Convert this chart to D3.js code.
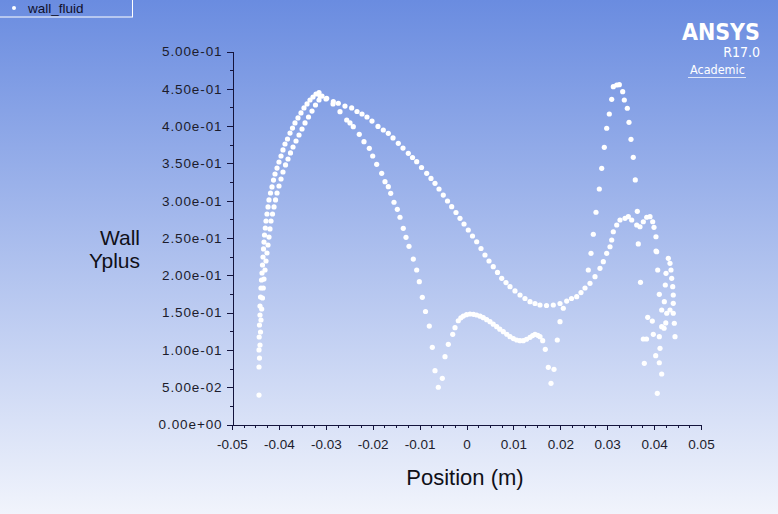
<!DOCTYPE html>
<html>
<head>
    <meta charset="UTF-8">
    <title>Wall Yplus</title>
    <script src="https://cdn.jsdelivr.net/npm/d3@7/dist/d3.min.js"></script>
    <style>
        body{
            padding: 0;
            margin: 0;
            overflow: hidden;
        }
        .axis path,
        .axis line{
            fill: none;
            stroke: #14143c;
            shape-rendering: crispEdges;
        }
        .axis text{
            font-family: "Liberation Sans", Arial, sans-serif;
            font-size: 13.5px;
            fill: #1c1c2c;
        }
        .yaxis text{
            letter-spacing: 0.9px;
        }
    </style>
</head>
<body>
<div class="first"></div>

<script>

    // tick labels as Fluent prints them
    var xTicks = [-0.05,-0.04,-0.03,-0.02,-0.01,0,0.01,0.02,0.03,0.04,0.05];
    var xTickLabels = ["-0.05","-0.04","-0.03","-0.02","-0.01","0","0.01","0.02","0.03","0.04","0.05"];
    var yTicks = [0,0.05,0.1,0.15,0.2,0.25,0.3,0.35,0.4,0.45,0.5];
    var yTickLabels = ["0.00e+00","5.00e-02","1.00e-01","1.50e-01","2.00e-01","2.50e-01",
        "3.00e-01","3.50e-01","4.00e-01","4.50e-01","5.00e-01"];

    // wall_fluid: [position (m), wall yplus]
    var leftOuter = [
        [-0.04424,0.0395],[-0.04424,0.0771],[-0.04424,0.0999],[-0.0442,0.1173],[-0.04414,0.1334],
        [-0.04403,0.1468],[-0.04403,0.1588],[-0.04392,0.1709],[-0.04382,0.1830],[-0.04371,0.1937],
        [-0.0436,0.2031],[-0.0435,0.2138],[-0.04339,0.2245],[-0.04328,0.2353],[-0.04318,0.2446],
        [-0.04307,0.2540],[-0.0429,0.2634],[-0.04275,0.2728],[-0.04254,0.2822],[-0.04232,0.2916],
        [-0.04211,0.3010],[-0.04179,0.3103],[-0.04147,0.3184],[-0.04115,0.3277],[-0.04083,0.3358],
        [-0.0404,0.3438],[-0.03998,0.3519],[-0.03955,0.3599],[-0.03913,0.3680],[-0.0387,0.3760],
        [-0.03817,0.3827],[-0.03763,0.3907],[-0.0371,0.3974],[-0.03657,0.4042],[-0.03593,0.4109],
        [-0.03529,0.4176],[-0.03465,0.4243],[-0.034,0.4297],[-0.03337,0.4350],[-0.03273,0.4390],
        [-0.03209,0.4430],[-0.03145,0.4450]
    ];
    var leftInner = [
        [-0.04414,0.0891],[-0.04403,0.1066],[-0.04392,0.1240],[-0.04382,0.1401],[-0.04367,0.1548],
        [-0.0435,0.1696],[-0.04333,0.1830],[-0.04318,0.1950],[-0.04296,0.2071],[-0.04275,0.2192],
        [-0.04254,0.2299],[-0.04232,0.2406],[-0.04211,0.2513],[-0.0419,0.2621],[-0.04168,0.2728],
        [-0.04136,0.2822],[-0.04104,0.2916],[-0.04072,0.3010],[-0.0404,0.3103],[-0.03998,0.3197],
        [-0.03955,0.3291],[-0.03913,0.3385],[-0.03859,0.3479],[-0.03806,0.3559],[-0.03753,0.3640],
        [-0.03699,0.3720],[-0.03635,0.3800],[-0.03571,0.3881],[-0.03507,0.3961],[-0.03443,0.4042],
        [-0.03369,0.4122],[-0.03294,0.4202],[-0.0322,0.4283],[-0.03145,0.4350],[-0.03081,0.4403]
    ];
    var upperBranch = [
        [-0.03124,0.4403],[-0.02981,0.4373],[-0.0284,0.4327],[-0.02733,0.4306],[-0.02591,0.4269],
        [-0.02448,0.4243],[-0.02335,0.4196],[-0.02228,0.4162],[-0.02122,0.4122],[-0.02015,0.4068],
        [-0.01887,0.3995],[-0.01774,0.3948],[-0.01667,0.3903],[-0.01567,0.3841],[-0.01454,0.3769],
        [-0.01354,0.3706],[-0.01241,0.3635],[-0.01151,0.3579],[-0.01062,0.3523],[-0.00959,0.3445],
        [-0.00849,0.3367],[-0.00757,0.3298],[-0.00672,0.3233],[-0.00586,0.3157],[-0.00495,0.3076],
        [-0.00405,0.2996],[-0.00316,0.2920],[-0.00224,0.2842],[-0.00139,0.2764],[-0.00053,0.2688],
        [0.00038,0.2607],[0.00128,0.2527],[0.00217,0.2450],[0.00309,0.2359],[0.00394,0.2272],
        [0.0048,0.2192],[0.00571,0.2115],[0.00661,0.2038],[0.00751,0.1960],[0.00842,0.1903],
        [0.00928,0.1847],[0.01034,0.1790],[0.01141,0.1736],[0.01247,0.1689],[0.01354,0.1646],
        [0.01461,0.1622],[0.01567,0.1602],[0.01706,0.1595],[0.01851,0.1602],[0.01994,0.1622],
        [0.02136,0.1655],[0.02239,0.1689],[0.0235,0.1713],[0.02441,0.1769],[0.02527,0.1830],
        [0.02633,0.1893],[0.0274,0.1981],[0.02846,0.2094],[0.02917,0.2182],[0.02989,0.2295],
        [0.0306,0.2383],[0.03096,0.2473],[0.0313,0.2584],[0.03203,0.2674],[0.03273,0.2741],
        [0.0338,0.2764],[0.0345,0.2786],[0.03522,0.2741],[0.03629,0.2674],[0.03699,0.2651],
        [0.0377,0.2718],[0.03842,0.2778],[0.03913,0.2786],[0.0397,0.2718],[0.03998,0.2643],
        [0.0404,0.2517],[0.04055,0.2316],[0.04077,0.2071],[0.04111,0.1745],[0.04162,0.1535],
        [0.04162,0.1311],[0.04126,0.1021],[0.04111,0.0828],[0.04162,0.0677]
    ];
    var innerBranch = [
        [-0.02996,0.4363],[-0.02846,0.4296],[-0.02697,0.4193],[-0.02554,0.4082],[-0.02484,0.4042],
        [-0.02414,0.3992],[-0.02286,0.3890],[-0.02186,0.3791],[-0.02072,0.3702],[-0.02,0.3599],
        [-0.01915,0.3488],[-0.01808,0.3367],[-0.01738,0.3255],[-0.01667,0.3188],[-0.01616,0.3099],
        [-0.01546,0.2979],[-0.01475,0.2885],[-0.01418,0.2778],[-0.01348,0.2630],[-0.0129,0.2509],
        [-0.01226,0.2389],[-0.01134,0.2218],[-0.01062,0.2071],[-0.01006,0.1914],[-0.00942,0.1705],
        [-0.00874,0.1515],[-0.00793,0.1320],[-0.00729,0.1035],[-0.00672,0.0721],[-0.00601,0.0499]
    ];
    var midBump = [
        [-0.00516,0.0619],[-0.00458,0.0909],[-0.00388,0.1075],[-0.00294,0.1209],[-0.00245,0.1298],
        [-0.00175,0.1391],[-0.0012,0.1430],[-0.00068,0.1454],[0.0,0.1472],[0.00075,0.1481],
        [0.0015,0.1477],[0.00217,0.1468],[0.0029,0.1452],[0.00358,0.1432],[0.0043,0.1405],
        [0.00501,0.1378],[0.0057,0.1345],[0.00644,0.1311],[0.0071,0.1278],[0.00785,0.1244],
        [0.0086,0.1210],[0.00928,0.1177],[0.01,0.1152],[0.0107,0.1133],[0.0114,0.1124],
        [0.01211,0.1123],[0.0128,0.1143],[0.01354,0.1169],[0.0141,0.1192],[0.01461,0.1209],
        [0.0152,0.1196],[0.01567,0.1177],[0.01625,0.1123],[0.0168,0.1008],[0.01744,0.0767],
        [0.01802,0.0552],[0.01866,0.0740]
    ];
    var rightSpike = [
        [0.01936,0.1133],[0.01994,0.1378],[0.02064,0.1558],[0.02597,0.2071],[0.02655,0.2295],
        [0.02704,0.2550],[0.02761,0.2845],[0.02832,0.3157],[0.02883,0.3434],[0.02938,0.3716],
        [0.02989,0.3971],[0.03045,0.4162],[0.03096,0.4359],[0.0313,0.4528],[0.03203,0.4551],
        [0.03258,0.4555],[0.0333,0.4461],[0.03365,0.4350],[0.03429,0.4239],[0.03465,0.4051],
        [0.03507,0.3823],[0.03556,0.3582],[0.03599,0.3278],[0.03642,0.2858],[0.03663,0.2420],
        [0.0371,0.1906],[0.03864,0.1437],[0.03962,0.1387],[0.0377,0.1146],[0.03838,0.1146],
        [0.03983,0.1209],[0.04034,0.0922],[0.03791,0.0820],[0.04068,0.0418]
    ];
    var farRight = [
        [0.04303,0.2228],[0.04339,0.2161],[0.0436,0.2071],[0.04375,0.1960],[0.04397,0.1847],
        [0.04409,0.1736],[0.04409,0.1625],[0.04254,0.2027],[0.04239,0.1870],[0.04218,0.1646],
        [0.0427,0.1491],[0.04339,0.1535],[0.04409,0.1491],[0.04431,0.1357],[0.04446,0.1177],
        [0.04249,0.1361],[0.04213,0.1290],[0.04111,0.1177],[0.04041,0.2326]
    ];

    var wallFluid = [].concat(leftOuter, leftInner, upperBranch, innerBranch, midBump, rightSpike, farRight);

    var width = 778, height = 514;

    var svg = d3.select("body")
        .select(".first")
        .append("svg")
        .attr("width", width)
        .attr("height", height);

    // blue to white background
    var grad = svg.append("defs")
        .append("linearGradient")
        .attr("id", "bg")
        .attr("x1", 0).attr("y1", 0)
        .attr("x2", 0).attr("y2", 1);
    grad.append("stop").attr("offset", "0%").attr("stop-color", "#6a8ce0");
    grad.append("stop").attr("offset", "100%").attr("stop-color", "#f1f4fc");

    svg.append("rect")
        .attr("width", width)
        .attr("height", height)
        .attr("fill", "url(#bg)");

    var x = d3.scaleLinear()
        .domain([-0.05, 0.05])
        .range([232, 701]);

    var y = d3.scaleLinear()
        .domain([0, 0.5])
        .range([424.5, 51.5]);

    // minor ticks first, then major ones with labels
    var xMinor = d3.axisBottom(x)
        .tickValues(d3.range(0, 41).map(function(i){ return -0.05 + i * 0.0025; }))
        .tickSize(3)
        .tickFormat("");
    var xAxis = d3.axisBottom(x)
        .tickValues(xTicks)
        .tickSize(5)
        .tickSizeOuter(0)
        .tickFormat(function(d, i){ return xTickLabels[i]; });

    var yMinor = d3.axisLeft(y)
        .tickValues(d3.range(0, 21).map(function(i){ return i * 0.025; }))
        .tickSize(3)
        .tickFormat("");
    var yAxis = d3.axisLeft(y)
        .tickValues(yTicks)
        .tickSize(6)
        .tickSizeOuter(0)
        .tickFormat(function(d, i){ return yTickLabels[i]; });

    svg.append("g")
        .attr("class", "axis")
        .attr("transform", "translate(0,424.5)")
        .call(xMinor);
    svg.append("g")
        .attr("class", "axis")
        .attr("transform", "translate(0,424.5)")
        .call(xAxis)
        .selectAll("text")
        .attr("y", 12)
        .attr("dy", "0.9em");

    svg.append("g")
        .attr("class", "axis")
        .attr("transform", "translate(232.5,0)")
        .call(yMinor);
    svg.append("g")
        .attr("class", "axis yaxis")
        .attr("transform", "translate(232.5,0)")
        .call(yAxis)
        .selectAll("text")
        .attr("x", -10);

    // axis titles
    svg.append("text")
        .attr("x", 465)
        .attr("y", 485)
        .attr("text-anchor", "middle")
        .style("font-family", "Liberation Sans, Arial, sans-serif")
        .style("font-size", "22px")
        .style("fill", "#101018")
        .text("Position (m)");

    var ylab = svg.append("text")
        .attr("text-anchor", "end")
        .style("font-family", "Liberation Sans, Arial, sans-serif")
        .style("font-size", "21px")
        .style("fill", "#101018");
    ylab.append("tspan").attr("x", 140).attr("y", 245).text("Wall");
    ylab.append("tspan").attr("x", 140).attr("y", 268).text("Yplus");

    // points
    svg.selectAll(".pt")
        .data(wallFluid)
        .enter()
        .append("circle")
        .attr("class", "pt")
        .attr("cx", function(d){ return x(d[0]); })
        .attr("cy", function(d){ return y(d[1]); })
        .attr("r", 2.6)
        .attr("fill", "#ffffff");

    // legend
    svg.append("rect")
        .attr("x", -1)
        .attr("y", -1)
        .attr("width", 133.5)
        .attr("height", 18)
        .attr("fill", "none")
        .attr("stroke", "#ffffff")
        .attr("stroke-width", 1);
    svg.append("circle")
        .attr("cx", 14)
        .attr("cy", 8)
        .attr("r", 2)
        .attr("fill", "#ffffff");
    svg.append("text")
        .attr("x", 28)
        .attr("y", 13)
        .style("font-family", "Liberation Sans, Arial, sans-serif")
        .style("font-size", "13.5px")
        .style("fill", "#10102a")
        .text("wall_fluid");

    // logo
    svg.append("text")
        .attr("x", 760)
        .attr("y", 40)
        .attr("text-anchor", "end")
        .style("font-family", "DejaVu Sans Condensed, DejaVu Sans, sans-serif")
        .style("font-weight", "bold")
        .style("font-size", "23px")
        .style("fill", "#ffffff")
        .text("ANSYS");
    svg.append("text")
        .attr("x", 760)
        .attr("y", 57)
        .attr("text-anchor", "end")
        .style("font-family", "DejaVu Sans Condensed, DejaVu Sans, sans-serif")
        .style("font-size", "14px")
        .style("fill", "#ffffff")
        .text("R17.0");
    svg.append("text")
        .attr("x", 690)
        .attr("y", 74)
        .style("font-family", "DejaVu Sans Condensed, DejaVu Sans, sans-serif")
        .style("font-size", "12.5px")
        .style("fill", "#ffffff")
        .text("Academic");
    svg.append("line")
        .attr("x1", 688).attr("x2", 746)
        .attr("y1", 77.5).attr("y2", 77.5)
        .attr("stroke", "#dfe6f8")
        .attr("stroke-width", 1);

</script>
</body>
</html>
